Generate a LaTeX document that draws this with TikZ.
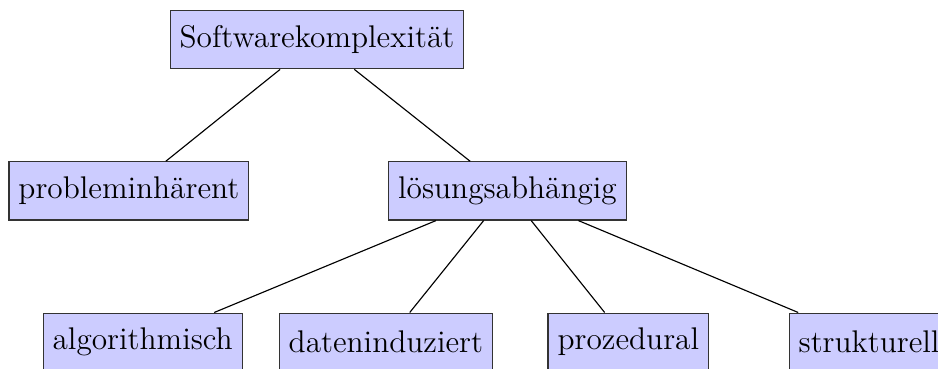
\documentclass[tikz,border=0pt]{standalone}
\usepackage{tikz}

\begin{document}
\begin{tikzpicture}[kasten/.style={draw=black!80,fill=blue!20,minimum height=20.4pt,inner sep=3.33pt,font=\fontsize{11}{13}\selectfont}]
\clip (0,0) rectangle (11.57,-4.55);
\useasboundingbox (0,0) rectangle (11.57,-4.55);
\node[kasten] (komplex) at (3.91,-0.49) {Softwarekomplexität};
\node[kasten] (problem) at (1.59,-2.355) {probleminhärent};
\node[kasten] (loesung) at (6.26,-2.355) {lösungsabhängig};
\node[kasten] (algo) at (1.76,-4.22) {algorithmisch};
\node[kasten] (daten) at (4.76,-4.22) {dateninduziert};
\node[kasten] (proz) at (7.75,-4.22) {prozedural};
\node[kasten] (struk) at (10.72,-4.22) {strukturell};
\draw (komplex) -- (problem);
\draw (komplex) -- (loesung);
\draw (loesung) -- (algo);
\draw (loesung) -- (daten);
\draw (loesung) -- (proz);
\draw (loesung) -- (struk);
\end{tikzpicture}
\end{document}
